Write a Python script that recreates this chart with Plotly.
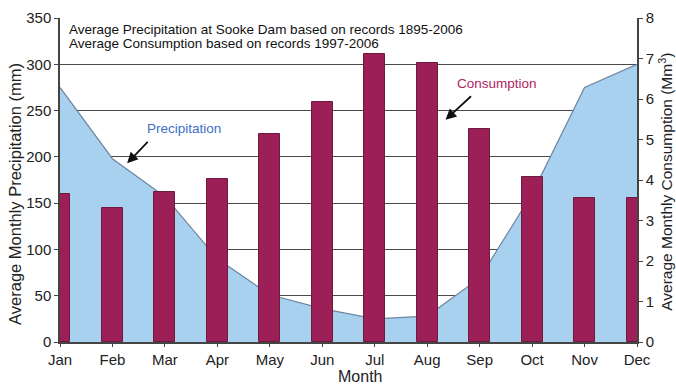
import plotly.graph_objects as go

months = ["Jan", "Feb", "Mar", "Apr", "May", "Jun", "Jul", "Aug", "Sep", "Oct", "Nov", "Dec"]
precip_mm = [275, 198, 157, 90, 51, 36, 25, 28, 69, 160, 275, 300]
consumption_mm3 = [3.65, 3.32, 3.71, 4.02, 5.13, 5.93, 7.10, 6.88, 5.26, 4.08, 3.56, 3.56]

x = list(range(len(months)))
font = "Liberation Sans, Arial, sans-serif"
axis_col = "#444"

fig = go.Figure()
fig.add_trace(go.Scatter(
    x=x, y=precip_mm, mode="lines", fill="tozeroy",
    fillcolor="#a8d0ef", line=dict(color="#6f86a0", width=1.2),
    yaxis="y", showlegend=False, hoverinfo="skip"))
fig.add_trace(go.Bar(
    x=x, y=consumption_mm3, width=0.4, yaxis="y2",
    marker=dict(color="#9c1f58", line=dict(color="#6e1a3c", width=1)),
    showlegend=False))

fig.update_layout(
    width=676, height=386,
    margin=dict(l=60, r=39, t=18, b=44, autoexpand=False),
    paper_bgcolor="white", plot_bgcolor="white",
    font=dict(family=font, size=15, color="#222"),
    xaxis=dict(range=[0, 11], tickvals=x, ticktext=months, showgrid=False, automargin=False,
               showline=True, linecolor=axis_col, linewidth=1.5,
               ticks="outside", ticklen=3, tickcolor=axis_col, zeroline=False,
               tickfont=dict(size=15)),
    yaxis=dict(range=[0, 350], dtick=50, showgrid=True, gridcolor="#4a4a4a", gridwidth=1.3,
               automargin=False,
               showline=True, linecolor=axis_col, linewidth=1.5, mirror=True,
               ticks="outside", ticklen=4, tickcolor=axis_col, zeroline=False,
               tickfont=dict(size=15)),
    yaxis2=dict(range=[0, 8], dtick=1, overlaying="y", side="right", showgrid=False,
                automargin=False,
                showline=True, linecolor=axis_col, linewidth=1.5,
                ticks="outside", ticklen=4, tickcolor=axis_col, zeroline=False,
                tickfont=dict(size=15)),
    bargap=0,
)

# axis titles
fig.add_annotation(x=-0.078, y=0.457, xref="paper", yref="paper", textangle=-90,
                   xanchor="center", yanchor="middle",
                   text="Average Monthly Precipitation (mm)", showarrow=False,
                   font=dict(size=16.5, color="#222"))
fig.add_annotation(x=1.050, y=0.494, xref="paper", yref="paper", textangle=-90,
                   xanchor="center", yanchor="middle",
                   text="Average Monthly Consumption (Mm<sup>3</sup>)", showarrow=False,
                   font=dict(size=15.5, color="#222"))
fig.add_annotation(x=0.52, y=-0.108, xref="paper", yref="paper",
                   xanchor="center", yanchor="middle",
                   text="Month", showarrow=False, font=dict(size=16, color="#222"))

# header text
fig.add_annotation(x=0.012, y=0.963, xref="paper", yref="paper", xanchor="left", yanchor="middle",
                   text="Average Precipitation at Sooke Dam based on records 1895-2006",
                   showarrow=False, font=dict(size=13.5, color="#111"))
fig.add_annotation(x=0.012, y=0.920, xref="paper", yref="paper", xanchor="left", yanchor="middle",
                   text="Average Consumption based on records 1997-2006",
                   showarrow=False, font=dict(size=13.5, color="#111"))

# series labels and arrows
fig.add_annotation(x=2.37, y=231, text="Precipitation", showarrow=False,
                   xanchor="center", yanchor="middle",
                   font=dict(size=13.5, color="#3d6fc6"))
fig.add_annotation(x=8.34, y=279, text="Consumption", showarrow=False,
                   xanchor="center", yanchor="middle",
                   font=dict(size=13.5, color="#b0245f"))
fig.add_annotation(x=1.28, y=193, ax=22, ay=-23, text="", showarrow=True,
                   arrowhead=2, arrowsize=1.2, arrowwidth=1.8, arrowcolor="#111")
fig.add_annotation(x=7.35, y=240, ax=27, ay=-25, text="", showarrow=True,
                   arrowhead=2, arrowsize=1.2, arrowwidth=1.8, arrowcolor="#111")

fig.write_html("out.html", config={"displayModeBar": False},
               post_script="document.body.style.margin='0';")
